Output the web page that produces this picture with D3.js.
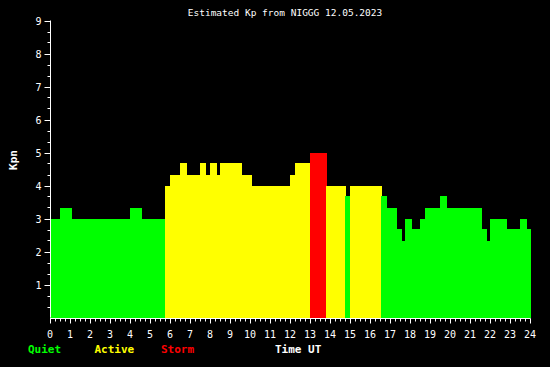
<!DOCTYPE html>
<html>
<head>
<meta charset="utf-8">
<script src="https://cdn.jsdelivr.net/npm/d3@7"></script>
<style>
  html,body{margin:0;padding:0;background:#000}
  svg{display:block}
  text{font-family:"DejaVu Sans Mono",monospace;fill:#fff}
</style>
</head>
<body>
<svg id="chart"></svg>
<script>
// step segments: start time (hours UT) and estimated Kp; last segment ends at endTime
const startTimes = [0, 0.5, 1.05, 4.0, 4.55, 5.75, 6.0, 6.5, 6.8, 7.5, 7.75, 8.0, 8.3, 8.5, 9.55,
  10.05, 12.0, 12.25, 13.0, 13.8, 14.75, 15.0, 16.55, 16.8, 17.3, 17.55, 17.75, 18.05, 18.5,
  18.75, 19.5, 19.8, 21.55, 21.8, 22.0, 22.8, 23.5, 23.8];
const kpValues = [3.0, 3.33, 3.0, 3.33, 3.0, 4.0, 4.33, 4.67, 4.33, 4.67, 4.33, 4.67, 4.33, 4.67, 4.33,
  4.0, 4.33, 4.67, 5.0, 4.0, 3.67, 4.0, 3.67, 3.33, 2.67, 2.33, 3.0, 2.67, 3.0,
  3.33, 3.67, 3.33, 2.67, 2.33, 3.0, 2.67, 3.0, 2.67];
const endTime = 24;
const xTicks = d3.range(0, 25);
const yTicks = d3.range(1, 10);
const legendItems = [
  { label: 'Quiet', color: '#00ff00' },
  { label: 'Active', color: '#ffff00' },
  { label: 'Storm', color: '#ff0000' },
];
const title = 'Estimated Kp from NIGGG 12.05.2023';

const W = 550, H = 367;
const svg = d3.select('#chart').attr('width', W).attr('height', H);
svg.append('rect').attr('width', W).attr('height', H).attr('fill', '#000');

const x = d3.scaleLinear().domain([0, 24]).range([50, 530]);
const y = d3.scaleLinear().domain([0, 9]).range([317.5, 20.5]);

const kpColor = v => v >= 5 ? '#ff0000' : v >= 4 ? '#ffff00' : '#00ff00';

const segs = startTimes.map((t, i) => ({
  t0: t, t1: i < startTimes.length - 1 ? startTimes[i + 1] : endTime, v: kpValues[i],
}));

svg.append('g').selectAll('rect').data(segs).enter().append('rect')
  .attr('x', d => x(d.t0))
  .attr('width', d => x(d.t1) - x(d.t0) + 0.5)
  .attr('y', d => y(d.v))
  .attr('height', d => y(0) - y(d.v))
  .attr('fill', d => kpColor(d.v))
  .attr('shape-rendering', 'crispEdges');

// y axis: minor ticks every 1/3
const yAxis = svg.append('g').attr('transform', 'translate(50.5,0)');
yAxis.append('line').attr('y1', y(9)).attr('y2', y(0)).attr('stroke', '#fff');
yAxis.selectAll('.ymin').data(d3.range(1, 27).map(i => i / 3)).enter().append('line')
  .attr('x1', -3).attr('x2', 0).attr('y1', d => Math.round(y(d)) + 0.5).attr('y2', d => Math.round(y(d)) + 0.5)
  .attr('stroke', '#fff');
yAxis.selectAll('.ymaj').data(yTicks).enter().append('line')
  .attr('x1', -6).attr('x2', 0).attr('y1', d => Math.round(y(d)) + 0.5).attr('y2', d => Math.round(y(d)) + 0.5)
  .attr('stroke', '#fff');
yAxis.selectAll('text').data(yTicks).enter().append('text')
  .attr('x', -9).attr('y', d => y(d) + 4)
  .attr('text-anchor', 'end').style('font-size', '10px').text(d => d);

// x axis: minor ticks every 15 min
const xAxis = svg.append('g').attr('transform', 'translate(0,318.5)');
xAxis.append('line').attr('x1', x(0)).attr('x2', x(24)).attr('stroke', '#fff');
xAxis.selectAll('.xmin').data(d3.range(0, 97).map(i => i / 4)).enter().append('line')
  .attr('x1', d => Math.round(x(d)) + 0.5).attr('x2', d => Math.round(x(d)) + 0.5)
  .attr('y1', 0).attr('y2', 3).attr('stroke', '#fff');
xAxis.selectAll('.xmaj').data(xTicks).enter().append('line')
  .attr('x1', d => Math.round(x(d)) + 0.5).attr('x2', d => Math.round(x(d)) + 0.5)
  .attr('y1', 0).attr('y2', 5).attr('stroke', '#fff');
xAxis.selectAll('text').data(xTicks).enter().append('text')
  .attr('x', d => x(d)).attr('y', 19)
  .attr('text-anchor', 'middle').style('font-size', '10px').text(d => d);

svg.append('text').attr('x', 285).attr('y', 16).attr('text-anchor', 'middle')
  .style('font-size', '9.5px').text(title);

svg.append('text').attr('transform', 'translate(17,160) rotate(-90)')
  .attr('text-anchor', 'middle').style('font-size', '11px').style('font-weight', 'bold').text('Kpn');

svg.selectAll('.legend').data(legendItems).enter().append('text')
  .attr('x', (d, i) => 28 + i * 66.5).attr('y', 353)
  .style('font-size', '11px').style('font-weight', 'bold')
  .style('fill', d => d.color).text(d => d.label);

svg.append('text').attr('x', 275).attr('y', 353)
  .style('font-size', '11px').style('font-weight', 'bold').text('Time UT');
</script>
</body>
</html>
